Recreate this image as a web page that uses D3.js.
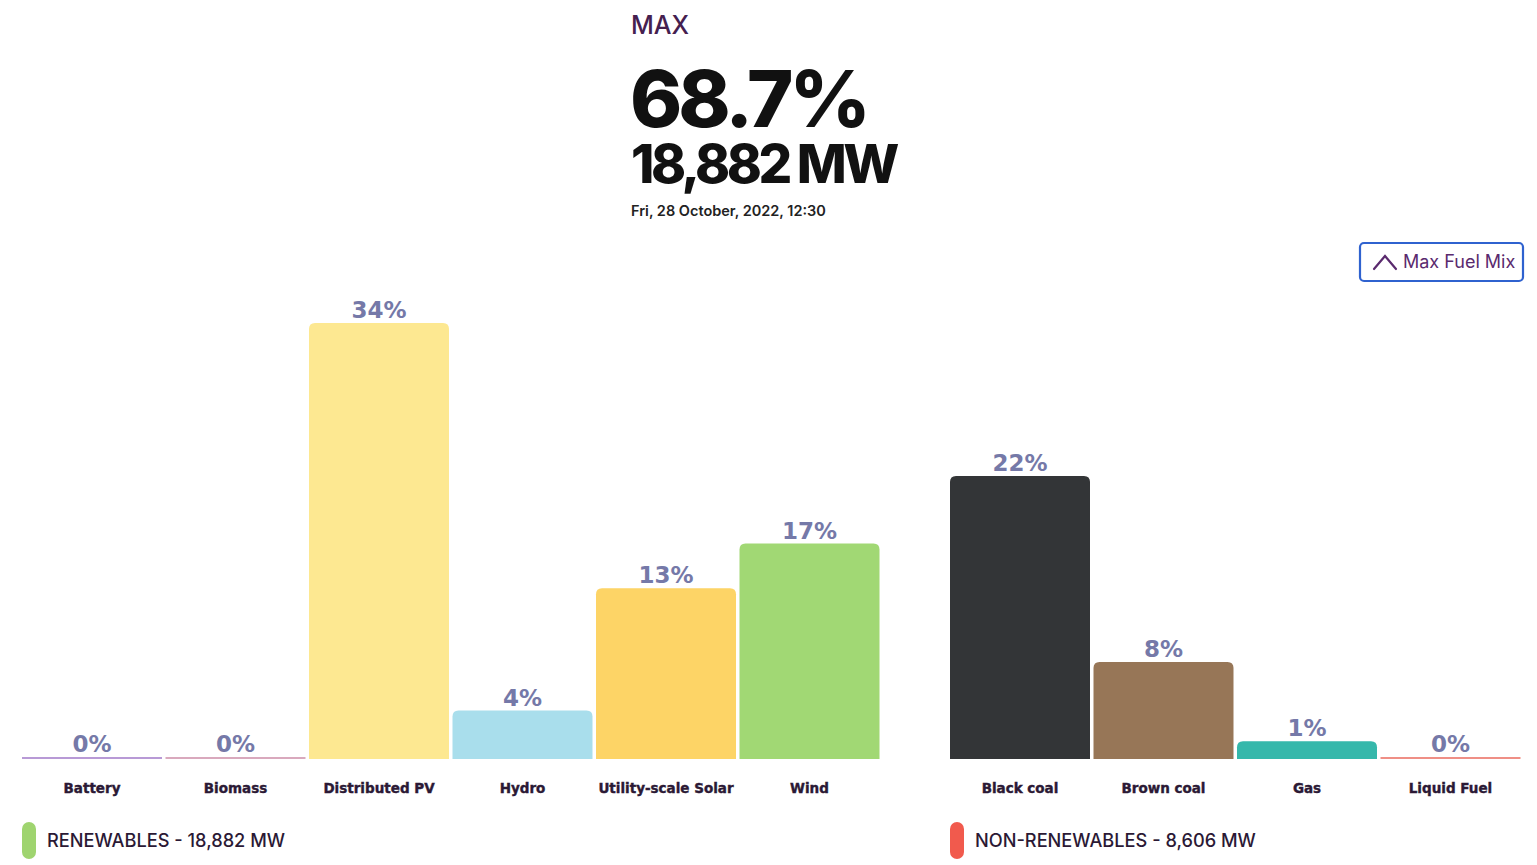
<!DOCTYPE html>
<html>
<head>
<meta charset="utf-8">
<script src="https://cdn.jsdelivr.net/npm/d3@7"></script>
<style>
  html, body { margin: 0; padding: 0; background: #ffffff; }
  svg { display: block; }
</style>
</head>
<body>
<svg id="chart" width="1537" height="865"></svg>
<script>
// ---- data ----
const renewableFuels = ["Battery", "Biomass", "Distributed PV", "Hydro", "Utility-scale Solar", "Wind"];
const renewableValues = [0.0, 0.0, 34.2, 3.8, 13.4, 16.9];
const renewableColors = ["#b89ad6", "#d9a9bd", "#fde891", "#a9deec", "#fdd466", "#a1d874"];

const nonRenewableFuels = ["Black coal", "Brown coal", "Gas", "Liquid Fuel"];
const nonRenewableValues = [22.2, 7.6, 1.4, 0.0];
const nonRenewableColors = ["#333537", "#977657", "#35b8ab", "#ef8f86"];

const headerLabel = "MAX";
const headerPercent = "68.7%";
const headerPower = "18,882 MW";
const headerDate = "Fri, 28 October, 2022, 12:30";
const buttonLabel = "Max Fuel Mix";
const legendLabels = ["RENEWABLES - 18,882 MW", "NON-RENEWABLES - 8,606 MW"];
const legendColors = ["#9fd46f", "#f15a4d"];

// ---- layout ----
const svg = d3.select("#chart");
const baseline = 759;
const y = d3.scaleLinear().domain([0, 40]).range([baseline, baseline - 510]);

const xRen = d3.scaleBand().domain(renewableFuels).range([22, 879.5]).paddingInner(0.0244).paddingOuter(0);
const xNon = d3.scaleBand().domain(nonRenewableFuels).range([950, 1520.5]).paddingInner(0.0244).paddingOuter(0);

function topRoundedRect(x, yTop, w, h, r) {
  r = Math.min(r, h, w / 2);
  return `M${x},${yTop + h} L${x},${yTop + r} Q${x},${yTop} ${x + r},${yTop} L${x + w - r},${yTop} Q${x + w},${yTop} ${x + w},${yTop + r} L${x + w},${yTop + h} Z`;
}

function drawGroup(fuels, values, colors, xScale) {
  const data = fuels.map((f, i) => ({ fuel: f, value: values[i], color: colors[i] }));
  const g = svg.append("g");
  g.selectAll("path.bar").data(data).enter().append("path")
    .attr("class", "bar")
    .attr("fill", d => d.color)
    .attr("d", d => {
      const h = Math.max(2, baseline - y(d.value));
      const r = d.value > 0 ? 6 : 0;
      return topRoundedRect(xScale(d.fuel), baseline - h, xScale.bandwidth(), h, r);
    });
  g.selectAll("text.val").data(data).enter().append("text")
    .attr("class", "val")
    .attr("x", d => xScale(d.fuel) + xScale.bandwidth() / 2)
    .attr("y", d => Math.min(y(d.value), baseline - 2) - 5)
    .attr("text-anchor", "middle")
    .attr("font-family", "DejaVu Sans")
    .attr("font-weight", "bold")
    .attr("font-size", 23)
    .attr("fill", "#7579a8")
    .text(d => Math.round(d.value) + "%");
  g.selectAll("text.cat").data(data).enter().append("text")
    .attr("class", "cat")
    .attr("x", d => xScale(d.fuel) + xScale.bandwidth() / 2)
    .attr("y", 793)
    .attr("text-anchor", "middle")
    .attr("font-family", "DejaVu Sans")
    .attr("font-weight", "bold")
    .attr("font-size", 13.5)
    .attr("stroke", "#2b1935")
    .attr("stroke-width", 0.4)
    .attr("fill", "#2b1935")
    .text(d => d.fuel);
}

drawGroup(renewableFuels, renewableValues, renewableColors, xRen);
drawGroup(nonRenewableFuels, nonRenewableValues, nonRenewableColors, xNon);

// ---- header ----
const hx = 631;
svg.append("text").attr("x", hx).attr("y", 34)
  .attr("font-family", "Inter").attr("font-weight", 500).attr("font-size", 25)
  .attr("fill", "#45204f").text(headerLabel);
const big = svg.append("text")
  .attr("font-family", "Inter").attr("font-weight", 800).attr("fill", "#111111");
big.append("tspan").attr("x", hx - 1).attr("y", 127)
  .attr("font-size", 79).attr("letter-spacing", -3.9).text(headerPercent);
big.append("tspan").attr("x", hx).attr("y", 183)
  .attr("font-size", 53).attr("letter-spacing", -3.5).text(headerPower);
svg.append("text").attr("x", hx).attr("y", 216)
  .attr("font-family", "Inter").attr("font-weight", 600).attr("font-size", 14.5)
  .attr("fill", "#222222").text(headerDate);

// ---- button ----
const btn = svg.append("g");
btn.append("rect").attr("x", 1360).attr("y", 243).attr("width", 163).attr("height", 38)
  .attr("rx", 4).attr("fill", "#ffffff").attr("stroke", "#2f62cf").attr("stroke-width", 2.2);
btn.append("path").attr("d", "M1374,269 L1385,256 L1396,269")
  .attr("fill", "none").attr("stroke", "#5a2a6e").attr("stroke-width", 2.2).attr("stroke-linecap", "round");
btn.append("text").attr("x", 1403).attr("y", 268)
  .attr("font-family", "Inter").attr("font-weight", 400).attr("font-size", 18)
  .attr("fill", "#5a2a6e").text(buttonLabel);

// ---- legends ----
const legendX = [22, 950];
legendLabels.forEach((lbl, i) => {
  svg.append("rect").attr("x", legendX[i]).attr("y", 822).attr("width", 14).attr("height", 37)
    .attr("rx", 7).attr("fill", legendColors[i]);
  svg.append("text").attr("x", legendX[i] + 25).attr("y", 847)
    .attr("font-family", "Inter").attr("font-weight", 500).attr("font-size", 18.2)
    .attr("fill", "#2b1935").text(lbl);
});
</script>
</body>
</html>
